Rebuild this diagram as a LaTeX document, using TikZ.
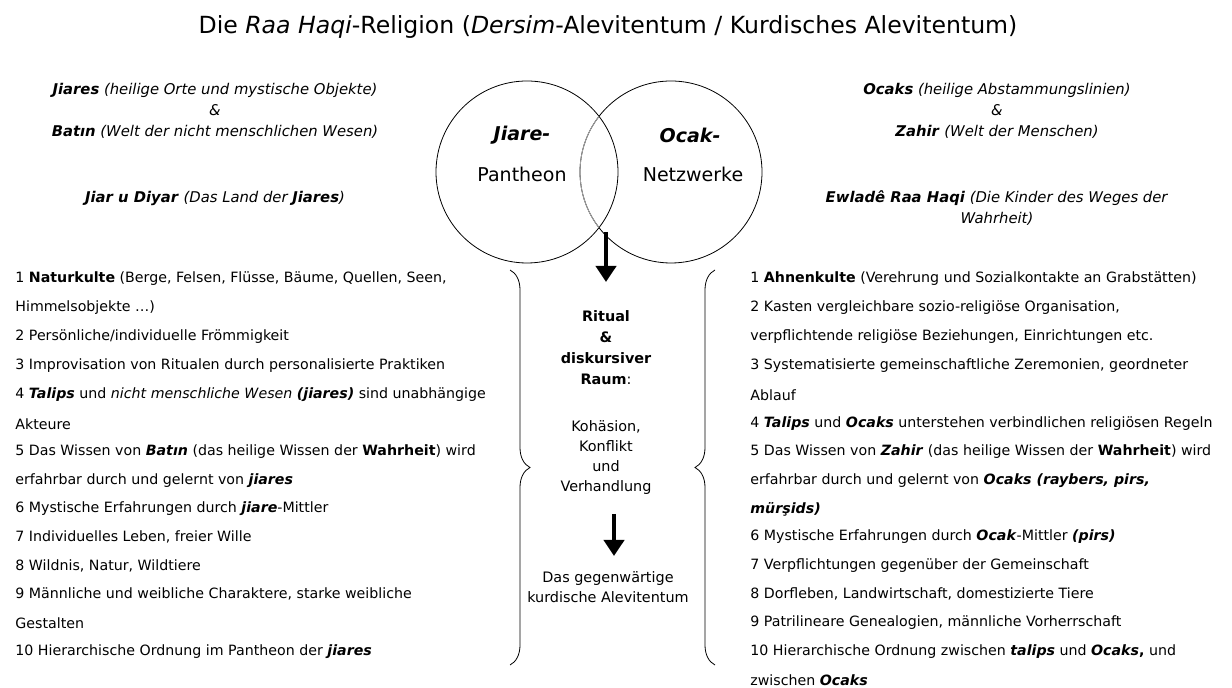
\documentclass[tikz,border=0pt]{standalone}
\usepackage{fontspec}
\setmainfont{DejaVu Sans}
\usetikzlibrary{positioning,decorations.pathreplacing,arrows.meta}
\tikzset{
  item/.style   = {anchor=west, inner sep=0pt, font=\fontsize{7.1}{9}\selectfont},
  head/.style   = {align=center, inner sep=0pt, font=\fontsize{7.4}{10.5}\selectfont},
  mid/.style    = {align=center, inner sep=0pt, font=\fontsize{7.2}{10}\selectfont},
  bigarrow/.style = {-{Triangle[length=8pt,width=10pt]}, line width=2.4pt},
  curly/.style  = {decorate, decoration={brace, amplitude=10pt}, thin}
}
\begin{document}
\begin{tikzpicture}[x=0.5pt, y=-0.5pt]
  \useasboundingbox (0,0) rectangle (1232,688);
  % title
  \node[font=\fontsize{11.8}{14}\selectfont] (title) at (608,27)
    {Die \textit{Raa Haqi}-Religion (\textit{Dersim}-Alevitentum / Kurdisches Alevitentum)};
  % circles
  \draw[thin] (527,172) circle (91);
  \draw[thin] (671,172) circle (91);
  \begin{scope}
    \clip (527,172) circle (91);
    \draw[thin, gray!70] (671,172) circle (91);
  \end{scope}
  \node[font=\fontsize{9.5}{11}\selectfont\bfseries\itshape] (jiare) at (522,135) {Jiare-};
  \node[font=\fontsize{9.5}{11}\selectfont] (pantheon) at (522,174) {Pantheon};
  \node[font=\fontsize{9.5}{11}\selectfont\bfseries\itshape] (ocak) at (690,135) {Ocak-};
  \node[font=\fontsize{9.5}{11}\selectfont] (netz) at (693,174) {Netzwerke};
  % top left
  \node[head] (jl) at (215,111) {\textbf{\textit{Jiares}} \textit{(heilige Orte und mystische Objekte)}\\
    \textit{\&}\\ \textbf{\textit{Batın}} \textit{(Welt der nicht menschlichen Wesen)}};
  \node[head] (jd) at (215,198) {\textbf{\textit{Jiar u Diyar}} \textit{(Das Land der \textbf{Jiares})}};
  % top right
  \node[head] (or) at (997,111) {\textbf{\textit{Ocaks}} \textit{(heilige Abstammungslinien)}\\
    \textit{\&}\\ \textbf{\textit{Zahir}} \textit{(Welt der Menschen)}};
  \node[head] (ew) at (997,208) {\textbf{\textit{Ewladê Raa Haqi}} \textit{(Die Kinder des Weges der}\\ \textit{Wahrheit)}};
  % centre column
  \coordinate (a1) at (606,232);
  \coordinate (a2) at (606,282);
  \draw[bigarrow] (a1) -- (a2);
  \node[mid, font=\fontsize{7.2}{10.5}\selectfont\bfseries] (ritual) at (606,348) {Ritual\\\&\\diskursiver\\Raum\textmd{:}};
  \node[mid] (koh) at (606,458) {Kohäsion,\\Konflikt\\und\\Verhandlung};
  \coordinate (b1) at (614,514);
  \coordinate (b2) at (614,556);
  \draw[bigarrow] (b1) -- (b2);
  \node[mid] (gegen) at (608,587) {Das gegenwärtige\\kurdische Alevitentum};
  % braces
  \draw[curly] (510,270) -- (510,665);
  \draw[curly] (715,665) -- (715,270);
  % left list
  \foreach \y/\t in {
    279/{1 \textbf{Naturkulte} (Berge, Felsen, Flüsse, Bäume, Quellen, Seen,},
    308/{Himmelsobjekte …)},
    337/{2 Persönliche/individuelle Frömmigkeit},
    366/{3 Improvisation von Ritualen durch personalisierte Praktiken},
    395/{4 \textbf{\textit{Talips}} und \textit{nicht menschliche Wesen} \textbf{\textit{(jiares)}} sind unabhängige},
    424/{Akteure},
    452/{5 Das Wissen von \textbf{\textit{Batın}} (das heilige Wissen der \textbf{Wahrheit}) wird},
    481/{erfahrbar durch und gelernt von \textbf{\textit{jiares}}},
    509/{6 Mystische Erfahrungen durch \textbf{\textit{jiare}}-Mittler},
    537/{7 Individuelles Leben, freier Wille},
    566/{8 Wildnis, Natur, Wildtiere},
    594/{9 Männliche und weibliche Charaktere, starke weibliche},
    623/{Gestalten},
    652/{10 Hierarchische Ordnung im Pantheon der \textbf{\textit{jiares}}}}
    \node[item] (l\y) at (15,\y) {\t};
  % right list
  \foreach \y/\t in {
    279/{1 \textbf{Ahnenkulte} (Verehrung und Sozialkontakte an Grabstätten)},
    308/{2 Kasten vergleichbare sozio-religiöse Organisation,},
    337/{verpflichtende religiöse Beziehungen, Einrichtungen etc.},
    366/{3 Systematisierte gemeinschaftliche Zeremonien, geordneter},
    395/{Ablauf},
    424/{4 \textbf{\textit{Talips}} und \textbf{\textit{Ocaks}} unterstehen verbindlichen religiösen Regeln},
    452/{5 Das Wissen von \textbf{\textit{Zahir}} (das heilige Wissen der \textbf{Wahrheit}) wird},
    481/{erfahrbar durch und gelernt von \textbf{\textit{Ocaks (raybers, pirs,}}},
    509/{\textbf{\textit{mürşids)}}},
    537/{6 Mystische Erfahrungen durch \textbf{\textit{Ocak}}-Mittler \textbf{\textit{(pirs)}}},
    566/{7 Verpflichtungen gegenüber der Gemeinschaft},
    594/{8 Dorfleben, Landwirtschaft, domestizierte Tiere},
    623/{9 Patrilineare Genealogien, männliche Vorherrschaft},
    652/{10 Hierarchische Ordnung zwischen \textbf{\textit{talips}} und \textbf{\textit{Ocaks},} und},
    680/{zwischen \textbf{\textit{Ocaks}}}}
    \node[item] (r\y) at (750,\y) {\t};
\end{tikzpicture}
\end{document}
